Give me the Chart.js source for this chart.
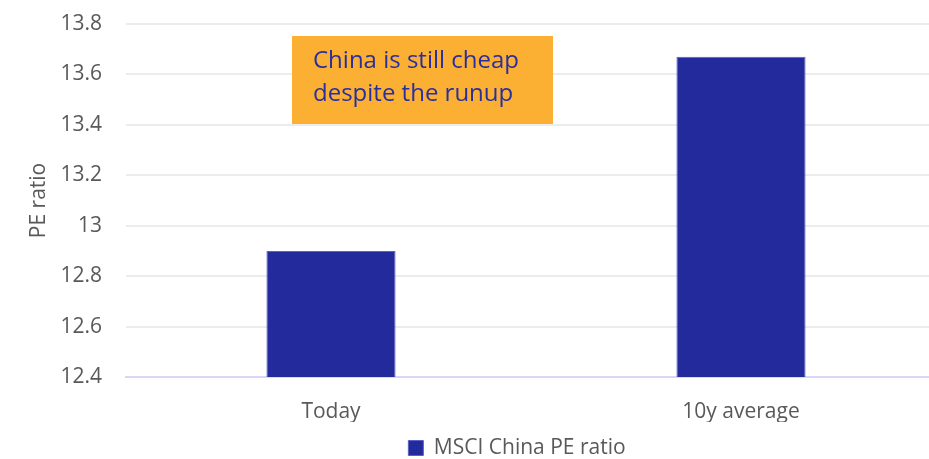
<!DOCTYPE html>
<html>
<head>
<meta charset="utf-8">
<script src="https://cdn.jsdelivr.net/npm/chart.js@4/dist/chart.umd.min.js"></script>
<style>
    html, body { margin: 0; padding: 0; background: #fff; overflow: hidden; }
    #wrap { width: 929px; height: 459px; overflow: hidden; }
</style>
</head>
<body>
<div id="wrap"><canvas id="pe-chart" width="946" height="459"></canvas></div>
<script>
var categories = ['Today', '10y average'];
var peValues = [12.9, 13.67];
var seriesName = 'MSCI China PE ratio';
var yTicks = [12.4, 12.6, 12.8, 13, 13.2, 13.4, 13.6, 13.8];
var noteLines = ['China is still cheap', 'despite the runup'];

var barColor = '#232b9c';
var textGrey = '#595959';

// orange call-out box in the upper left of the plot
var notePlugin = {
    id: 'note',
    afterDraw: function(chart) {
        var ctx = chart.ctx;
        var area = chart.chartArea;
        var x = area.left + 166, y = area.top + 12;
        ctx.save();
        ctx.fillStyle = '#fbb034';
        ctx.fillRect(x, y, 261, 88);
        ctx.fillStyle = '#2a2f9f';
        ctx.font = '24px "Open Sans"';
        ctx.textBaseline = 'middle';
        ctx.fillText(noteLines[0], x + 21, y + 25);
        ctx.fillText(noteLines[1], x + 21, y + 58);
        ctx.restore();
    }
};

// nudge the legend so it sits where the original one does
var legendShift = {
    id: 'legendShift',
    afterLayout: function(chart) {
        var lg = chart.legend;
        var dx = 517 - (lg.left + lg.right) / 2;
        var dy = 450 - (lg.top + lg.bottom) / 2;
        lg.left += dx;
        lg.right += dx;
        lg.top += dy;
        lg.bottom += dy;
    }
};

var ctx = document.getElementById('pe-chart').getContext('2d');
var peChart = new Chart(ctx, {
    type: 'bar',
    data: {
        labels: categories,
        datasets: [{
            label: seriesName,
            data: peValues,
            backgroundColor: barColor,
            borderColor: '#5a60c4',
            borderWidth: 1,
            barPercentage: 0.315,
            categoryPercentage: 1
        }]
    },
    options: {
        responsive: false,
        animation: false,
        layout: { padding: { top: 24, right: 0, bottom: 0, left: 0 } },
        scales: {
            x: {
                grid: { display: false, drawTicks: false },
                border: { color: '#d8d8f6', width: 2 },
                ticks: { color: textGrey, font: { family: 'Open Sans', size: 21 }, padding: 22 },
                afterFit: function(scale) { scale.height = 45; }
            },
            y: {
                min: 12.4,
                max: 13.8,
                afterBuildTicks: function(scale) {
                    scale.ticks = yTicks.map(function(v) { return { value: v }; });
                },
                grid: { color: '#ececec', lineWidth: 2, drawTicks: false },
                border: { display: false },
                ticks: {
                    color: textGrey,
                    font: { family: 'Open Sans', size: 21 },
                    padding: 24,
                    callback: function(v) { return String(Math.round(v * 10) / 10); }
                },
                title: {
                    display: true,
                    text: 'PE ratio',
                    color: textGrey,
                    font: { family: 'Open Sans', size: 21 },
                    padding: { top: 26, bottom: 0 }
                },
                afterFit: function(scale) {
                    scale.width = 126;
                    scale.paddingTop = 0;
                    scale.paddingBottom = 0;
                }
            }
        },
        plugins: {
            legend: {
                position: 'bottom',
                labels: {
                    color: textGrey,
                    font: { family: 'Open Sans', size: 21 },
                    boxWidth: 15,
                    boxHeight: 15,
                    padding: 6,
                    useBorderRadius: false
                }
            },
            tooltip: { enabled: false }
        }
    },
    plugins: [notePlugin, legendShift]
});
</script>
</body>
</html>
